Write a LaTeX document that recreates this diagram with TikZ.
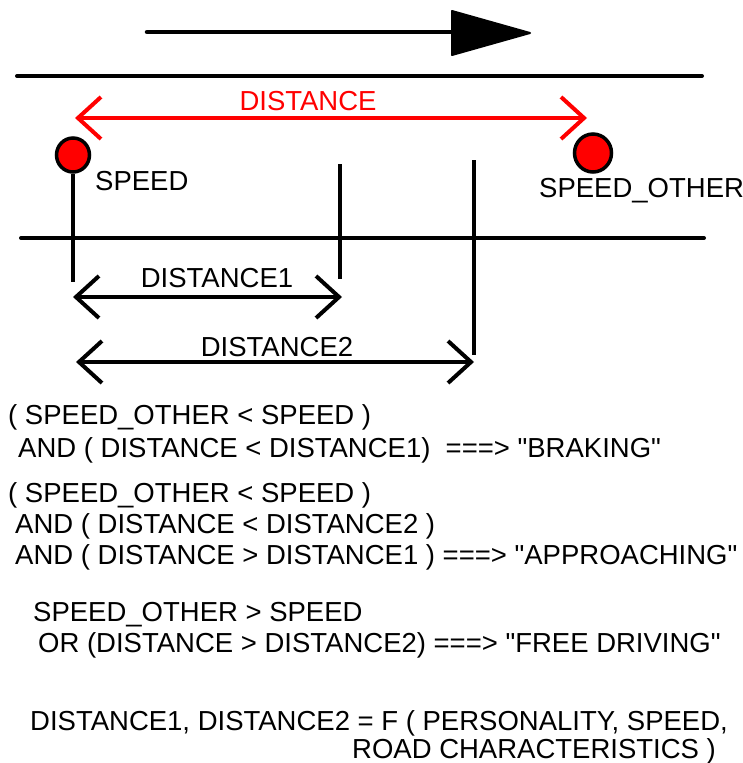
\documentclass[tikz,border=0pt]{standalone}
\usepackage{fontspec}
\setmainfont{Liberation Sans}
\usetikzlibrary{arrows.meta,shapes.geometric}
\begin{document}
\begin{tikzpicture}[x=1pt,y=-1pt,
  txt/.style={anchor=base west,inner sep=0pt,font=\fontsize{27.5}{32}\selectfont},
  lbl/.style={anchor=base,inner sep=0pt,font=\fontsize{27.5}{32}\selectfont},
  road/.style={line width=4pt,line cap=round},
  tick/.style={line width=4pt},
  barb/.style={Straight Barb[length=23pt,width=42pt,line width=4pt]},
  dim/.style={line width=4pt,line cap=round,{Straight Barb[length=23pt,width=42pt]}-{Straight Barb[length=23pt,width=42pt]}},
  car/.style={ellipse,draw=black,fill=red,line width=3.5pt,minimum width=33pt,minimum height=34pt,inner sep=0pt}
]
\useasboundingbox (0,0) rectangle (743,763);
% direction arrow
\coordinate (d0) at (147,32);
\coordinate (d1) at (452,32);
\coordinate (dt) at (530,33);
\coordinate (dtop) at (452,11);
\coordinate (dbot) at (452,55);
\draw[line width=4.5pt,line cap=round] (d0) -- (d1);
\fill[line join=round] (dtop) -- (dt) -- (dbot) -- cycle;
\draw[line width=2pt,line join=round] (dtop) -- (dt) -- (dbot) -- cycle;
% road edges
\coordinate (r1a) at (17,76);
\coordinate (r1b) at (702,76);
\coordinate (r2a) at (21,238);
\coordinate (r2b) at (704,238);
\draw[road] (r1a) -- (r1b);
\draw[road] (r2a) -- (r2b);
% cars
\node[car] (sp) at (73,155) {};
\node[car,minimum width=37pt,minimum height=38pt] (spo) at (593,153) {};
\node[lbl,anchor=base west] (lsp) at (95,190) {SPEED};
\node[lbl,anchor=base west] (lspo) at (539,197) {SPEED\_OTHER};
% red distance
\coordinate (da) at (75,118);
\coordinate (db) at (587,118);
\draw[dim,red] (da) -- (db);
\node[lbl,text=red] (ldist) at (308,110) {DISTANCE};
% vertical markers
\coordinate (v0b) at (73,282);
\coordinate (v1a) at (340,164);
\coordinate (v1b) at (340,279);
\coordinate (v2a) at (474,160);
\coordinate (v2b) at (474,355);
\draw[tick] (sp.south) -- (v0b);
\draw[tick] (v1a) -- (v1b);
\draw[tick] (v2a) -- (v2b);
% distance1 / distance2
\coordinate (a1) at (73,297);
\coordinate (b1) at (342,297);
\coordinate (a2) at (76,362);
\coordinate (b2) at (474,362);
\draw[dim] (a1) -- (b1);
\draw[dim] (a2) -- (b2);
\node[lbl] (ld1) at (217,287) {DISTANCE1};
\node[lbl] (ld2) at (277,356) {DISTANCE2};
% rules
\node[txt] (t1) at (8,424) {( SPEED\_OTHER < SPEED )};
\node[txt] (t2) at (18,457) {AND ( DISTANCE < DISTANCE1)\ \ ===> \textquotedbl BRAKING\textquotedbl};
\node[txt] (t3) at (8,502) {( SPEED\_OTHER < SPEED )};
\node[txt] (t4) at (15,533) {AND ( DISTANCE < DISTANCE2 )};
\node[txt] (t5) at (15,564) {AND ( DISTANCE > DISTANCE1 ) ===> \textquotedbl APPROACHING\textquotedbl};
\node[txt] (t6) at (33,621) {SPEED\_OTHER > SPEED};
\node[txt] (t7) at (38,652) {OR (DISTANCE > DISTANCE2) ===> \textquotedbl FREE DRIVING\textquotedbl};
\node[txt] (t8) at (30,730) {DISTANCE1, DISTANCE2 = F ( PERSONALITY, SPEED,};
\node[txt] (t9) at (352,758) {ROAD CHARACTERISTICS )};
\end{tikzpicture}
\end{document}
